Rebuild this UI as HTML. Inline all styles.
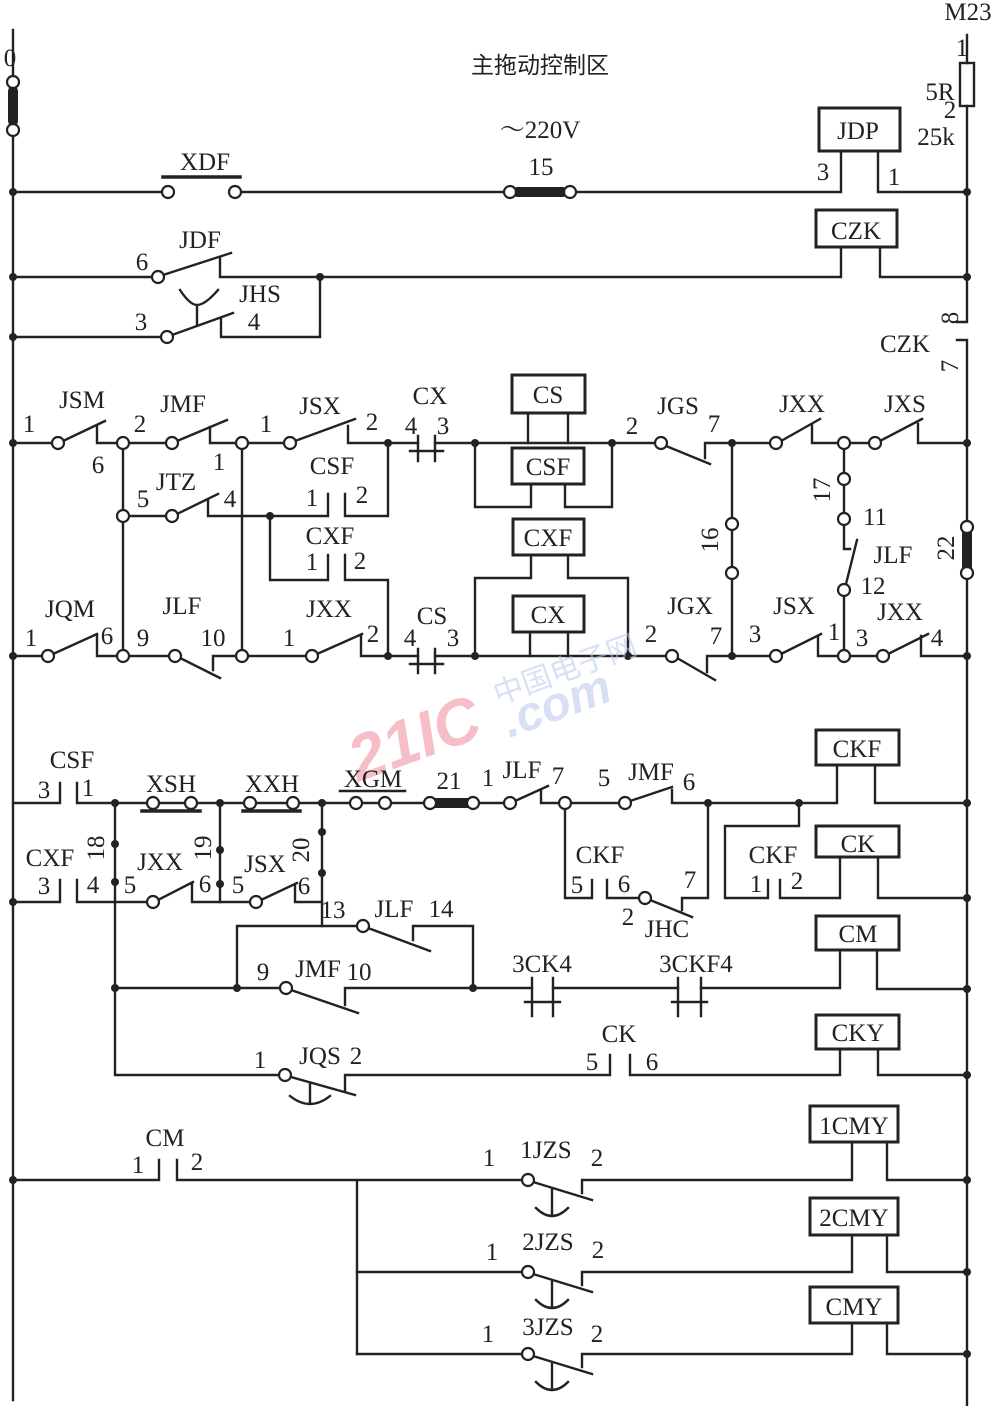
<!DOCTYPE html>
<html><head><meta charset="utf-8"><style>
html,body{margin:0;padding:0;background:#fff}
svg{display:block}
text{font-family:"Liberation Serif","Noto Serif CJK SC",serif;font-size:25px;fill:#222;text-anchor:middle}
.c{fill:#fff;stroke:#222;stroke-width:2.2}
.d{fill:#222}
</style></head><body>
<svg width="996" height="1406" viewBox="0 0 996 1406" xmlns="http://www.w3.org/2000/svg">
<g stroke="#222" stroke-width="2.4" fill="none" stroke-linecap="square">
<path d="M13 30V76M13 136V1400"/>
<path d="M967 35V63M967 106V322H957M967 340H957M967 340V520M967 580V1406"/>
<rect x="960" y="63" width="14" height="43"/>
<path d="M13 192H162M241 192H504M576 192H841V151M878 151V192H967"/>
<path d="M163 177H240" stroke-width="3.5"/>
<rect x="819" y="108" width="81" height="43" stroke-width="3"/>
<path d="M13 277H152M163 275L231 253M220 258V277H841V247M880 247V277H967"/>
<rect x="816" y="210" width="81" height="37" stroke-width="3"/>
<path d="M13 337H161M172 335L233 313M221 318V337H320V277"/>
<path d="M197 325V305M180 290Q190 305 197 305Q205 305 218 290"/>
<path d="M13 443H52M63 441L105 421M97 426V443H117M129 443H166M177 441L227 420M210 427V443H236M248 443H284M295 441L355 419M348 426V443H418M435 443H655"/>
<path d="M418 436V461M435 436V461M410 451H443"/>
<path d="M666 446L710 464M705 443V458M705 443H770M781 441L820 419M812 425V443H838M850 443H869M880 441L922 419M918 424V443H967"/>
<path d="M123 449V510M123 522V650M242 449V650M388 443V516H345V494M328 494V516H208V500M129 516H166M177 514L218 494"/>
<path d="M270 516V580H328V555M345 555V580H388V656"/>
<rect x="512" y="375" width="73" height="38" stroke-width="3"/>
<path d="M528 413V443M568 413V443M475 443V507H531V484M565 484V507H612V443"/>
<rect x="512" y="448" width="72" height="36" stroke-width="3"/>
<rect x="513" y="519" width="71" height="36" stroke-width="3"/>
<path d="M531 555V578H475V656M568 555V578H628V656"/>
<rect x="513" y="596" width="71" height="36" stroke-width="3"/>
<path d="M530 632V656M568 632V656"/>
<path d="M732 443V518M732 530V567M732 579V656"/>
<path d="M844 449V473M844 485V513M844 525V549H850M857 540L846 584M844 596V650"/>
<path d="M13 656H42M53 654L97 634M97 636V656H117M129 656H169M180 658L220 678M213 656V670M213 656H236M248 656H306M317 654L362 634M361 636V656H418M435 656H666"/>
<path d="M418 649V673M435 649V673M410 664H443"/>
<path d="M677 658L715 680M707 656V672M707 656H770M781 654L821 634M818 636V656H838M850 656H877M888 654L928 634M921 636V656H967"/>
<path d="M13 803H60V783M77 783V803H147M159 803H185M197 803H244M256 803H287M299 803H350M362 803H379M391 803H424M479 803H504M515 801L548 786M541 790V803H559M571 803H619M630 801L672 787M672 790V803H837V765M875 765V803H967"/>
<path d="M142 811H200M243 811H300" stroke-width="3.5"/>
<path d="M340 791H405" stroke-width="2.5"/>
<rect x="816" y="730" width="83" height="35" stroke-width="3"/>
<path d="M115 803V1075H280M220 803V902M322 803V926"/>
<path d="M13 902H60V880M77 880V902H147M158 900L193 882M192 884V902H250M261 900L297 883M295 884V902H322"/>
<path d="M237 988V926H357M368 928L430 951M413 940V926H473V988"/>
<path d="M115 988H280M291 990L358 1013M345 988V1005M345 988H532M553 988H678M701 988H840V950M877 950V989H967"/>
<path d="M532 978V1016M553 978V1016M525 1002H560M678 978V1016M701 978V1016M672 1002H707"/>
<rect x="816" y="916" width="83" height="34" stroke-width="3"/>
<path d="M565 809V898H592V880M607 880V898H639M650 900L692 917M682 898V910M682 898H708V803"/>
<path d="M799 803V826H725V898H768V880M780 880V898H840V857M878 857V898H967"/>
<rect x="816" y="826" width="83" height="31" stroke-width="3"/>
<path d="M291 1077L355 1095M345 1075V1090M345 1075H610V1055M630 1055V1075H840V1049M878 1049V1075H967"/>
<path d="M310 1083V1103M290 1096Q310 1112 330 1096"/>
<rect x="816" y="1015" width="83" height="34" stroke-width="3"/>
<path d="M13 1180H159V1160M177 1160V1180H522M357 1180V1354"/>
<path d="M533 1182L592 1200M582 1180V1193M582 1180H852V1142M887 1142V1180H967"/>
<path d="M552 1190V1215M536 1208Q552 1224 568 1208"/>
<rect x="810" y="1106" width="88" height="36" stroke-width="3"/>
<path d="M357 1272H522M533 1274L592 1292M582 1272V1285M582 1272H852V1235M887 1235V1272H967"/>
<path d="M552 1282V1307M536 1300Q552 1316 568 1300"/>
<rect x="810" y="1198" width="88" height="37" stroke-width="3"/>
<path d="M357 1354H522M533 1356L592 1374M582 1354V1367M582 1354H852V1323M887 1323V1354H967"/>
<path d="M552 1364V1389M536 1382Q552 1398 568 1382"/>
<rect x="810" y="1287" width="88" height="36" stroke-width="3"/>
</g>
<g>
<rect x="8" y="86" width="10" height="40" rx="5" class="d"/>
<rect x="512" y="187" width="56" height="10" rx="5" class="d"/>
<rect x="962" y="522" width="10" height="56" rx="5" class="d"/>
<rect x="426" y="798" width="50" height="10" rx="5" class="d"/>
</g>
<g class="c">
<circle cx="13" cy="82" r="6"/><circle cx="13" cy="130" r="6"/>
<circle cx="168" cy="192" r="6"/><circle cx="235" cy="192" r="6"/>
<circle cx="510" cy="192" r="6"/><circle cx="570" cy="192" r="6"/>
<circle cx="158" cy="277" r="6"/><circle cx="167" cy="337" r="6"/>
<circle cx="58" cy="443" r="6"/><circle cx="123" cy="443" r="6"/><circle cx="172" cy="443" r="6"/><circle cx="242" cy="443" r="6"/><circle cx="290" cy="443" r="6"/>
<circle cx="661" cy="443" r="6"/><circle cx="776" cy="443" r="6"/><circle cx="844" cy="443" r="6"/><circle cx="875" cy="443" r="6"/>
<circle cx="123" cy="516" r="6"/><circle cx="172" cy="516" r="6"/>
<circle cx="732" cy="524" r="6"/><circle cx="732" cy="573" r="6"/>
<circle cx="844" cy="479" r="6"/><circle cx="844" cy="519" r="6"/><circle cx="844" cy="590" r="6"/>
<circle cx="967" cy="527" r="6"/><circle cx="967" cy="573" r="6"/>
<circle cx="48" cy="656" r="6"/><circle cx="123" cy="656" r="6"/><circle cx="175" cy="656" r="6"/><circle cx="242" cy="656" r="6"/><circle cx="312" cy="656" r="6"/>
<circle cx="672" cy="656" r="6"/><circle cx="776" cy="656" r="6"/><circle cx="844" cy="656" r="6"/><circle cx="883" cy="656" r="6"/>
<circle cx="153" cy="803" r="6"/><circle cx="191" cy="803" r="6"/><circle cx="250" cy="803" r="6"/><circle cx="293" cy="803" r="6"/>
<circle cx="356" cy="803" r="6"/><circle cx="385" cy="803" r="6"/><circle cx="430" cy="803" r="6"/><circle cx="473" cy="803" r="6"/>
<circle cx="510" cy="803" r="6"/><circle cx="565" cy="803" r="6"/><circle cx="625" cy="803" r="6"/>
<circle cx="153" cy="902" r="6"/><circle cx="256" cy="902" r="6"/>
<circle cx="363" cy="926" r="6"/><circle cx="286" cy="988" r="6"/><circle cx="645" cy="898" r="6"/>
<circle cx="285" cy="1075" r="6"/>
<circle cx="528" cy="1180" r="6"/><circle cx="528" cy="1272" r="6"/><circle cx="528" cy="1354" r="6"/>
</g>
<g class="d">
<circle cx="13" cy="192" r="4"/><circle cx="13" cy="277" r="4"/><circle cx="13" cy="337" r="4"/><circle cx="320" cy="277" r="4"/>
<circle cx="967" cy="192" r="4"/><circle cx="967" cy="277" r="4"/>
<circle cx="13" cy="443" r="4"/><circle cx="388" cy="443" r="4"/><circle cx="475" cy="443" r="4"/><circle cx="612" cy="443" r="4"/><circle cx="732" cy="443" r="4"/><circle cx="967" cy="443" r="4"/>
<circle cx="270" cy="516" r="4"/>
<circle cx="13" cy="656" r="4"/><circle cx="388" cy="656" r="4"/><circle cx="475" cy="656" r="4"/><circle cx="628" cy="656" r="4"/><circle cx="732" cy="656" r="4"/><circle cx="967" cy="656" r="4"/>
<circle cx="115" cy="803" r="4"/><circle cx="220" cy="803" r="4"/><circle cx="322" cy="803" r="4"/><circle cx="708" cy="803" r="4"/><circle cx="799" cy="803" r="4"/><circle cx="967" cy="803" r="4"/>
<circle cx="115" cy="844" r="4"/><circle cx="115" cy="882" r="4"/><circle cx="220" cy="850" r="4"/><circle cx="220" cy="884" r="4"/><circle cx="322" cy="832" r="4"/><circle cx="322" cy="873" r="4"/>
<circle cx="13" cy="902" r="4"/><circle cx="967" cy="898" r="4"/>
<circle cx="115" cy="988" r="4"/><circle cx="237" cy="988" r="4"/><circle cx="473" cy="988" r="4"/><circle cx="967" cy="989" r="4"/>
<circle cx="967" cy="1075" r="4"/>
<circle cx="13" cy="1180" r="4"/><circle cx="967" cy="1180" r="4"/><circle cx="967" cy="1272" r="4"/><circle cx="967" cy="1354" r="4"/>
</g>
<g opacity="0.55">
<text x="415" y="760" style="font-family:'Liberation Sans',sans-serif;font-size:64px;font-weight:bold;font-style:italic;fill:#f08a9a" transform="rotate(-20 415 740)">21IC</text>
<text x="555" y="720" style="font-family:'Liberation Sans',sans-serif;font-size:48px;font-weight:bold;font-style:italic;fill:#b8c8ee" transform="rotate(-20 555 700)">.com</text>
<text x="565" y="680" style="font-family:'Noto Sans CJK SC',sans-serif;font-size:30px;fill:#b8c8ee" transform="rotate(-20 565 670)">中国电子网</text>
</g>
<g>
<text x="10" y="66">0</text>
<text x="968" y="20">M23</text>
<text x="962" y="56">1</text>
<text x="940" y="100">5R</text>
<text x="950" y="118">2</text>
<text x="936" y="145">25k</text>
<text x="540" y="73" style="font-family:'Noto Sans CJK SC',sans-serif;font-size:23px">主拖动控制区</text>
<text x="540" y="138">～220V</text>
<text x="205" y="170">XDF</text>
<text x="541" y="175">15</text>
<text x="858" y="139">JDP</text>
<text x="823" y="180">3</text>
<text x="894" y="185">1</text>
<text x="856" y="239">CZK</text>
<text x="200" y="248">JDF</text>
<text x="142" y="270">6</text>
<text x="260" y="302">JHS</text>
<text x="141" y="330">3</text>
<text x="254" y="330">4</text>
<text x="950" y="318" transform="rotate(-90 950 318)" dy="8">8</text>
<text x="905" y="352">CZK</text>
<text x="950" y="366" transform="rotate(-90 950 366)" dy="8">7</text>
<text x="946" y="548" transform="rotate(-90 946 548)" dy="8">22</text>
<text x="29" y="432">1</text>
<text x="82" y="408">JSM</text>
<text x="98" y="473">6</text>
<text x="140" y="432">2</text>
<text x="183" y="412">JMF</text>
<text x="219" y="470">1</text>
<text x="266" y="432">1</text>
<text x="320" y="414">JSX</text>
<text x="372" y="430">2</text>
<text x="430" y="404">CX</text>
<text x="411" y="434">4</text>
<text x="443" y="434">3</text>
<text x="548" y="403">CS</text>
<text x="548" y="475">CSF</text>
<text x="548" y="546">CXF</text>
<text x="548" y="623">CX</text>
<text x="632" y="434">2</text>
<text x="678" y="414">JGS</text>
<text x="714" y="432">7</text>
<text x="802" y="412">JXX</text>
<text x="905" y="412">JXS</text>
<text x="143" y="507">5</text>
<text x="176" y="490">JTZ</text>
<text x="230" y="507">4</text>
<text x="332" y="474">CSF</text>
<text x="312" y="506">1</text>
<text x="362" y="503">2</text>
<text x="330" y="544">CXF</text>
<text x="312" y="570">1</text>
<text x="360" y="569">2</text>
<text x="710" y="540" transform="rotate(-90 710 540)" dy="8">16</text>
<text x="822" y="490" transform="rotate(-90 822 490)" dy="8">17</text>
<text x="875" y="525">11</text>
<text x="893" y="563">JLF</text>
<text x="873" y="594">12</text>
<text x="70" y="617">JQM</text>
<text x="31" y="646">1</text>
<text x="107" y="644">6</text>
<text x="143" y="646">9</text>
<text x="182" y="614">JLF</text>
<text x="213" y="646">10</text>
<text x="289" y="646">1</text>
<text x="329" y="617">JXX</text>
<text x="373" y="642">2</text>
<text x="432" y="624">CS</text>
<text x="410" y="646">4</text>
<text x="453" y="646">3</text>
<text x="651" y="642">2</text>
<text x="690" y="614">JGX</text>
<text x="716" y="644">7</text>
<text x="755" y="642">3</text>
<text x="794" y="614">JSX</text>
<text x="834" y="640">1</text>
<text x="862" y="646">3</text>
<text x="900" y="620">JXX</text>
<text x="937" y="646">4</text>
<text x="72" y="768">CSF</text>
<text x="44" y="798">3</text>
<text x="88" y="796">1</text>
<text x="171" y="792">XSH</text>
<text x="272" y="792">XXH</text>
<text x="373" y="787">XGM</text>
<text x="449" y="789">21</text>
<text x="488" y="786">1</text>
<text x="522" y="778">JLF</text>
<text x="558" y="784">7</text>
<text x="604" y="786">5</text>
<text x="651" y="780">JMF</text>
<text x="689" y="790">6</text>
<text x="857" y="757">CKF</text>
<text x="50" y="866">CXF</text>
<text x="96" y="848" transform="rotate(-90 96 848)" dy="8">18</text>
<text x="44" y="894">3</text>
<text x="93" y="893">4</text>
<text x="130" y="893">5</text>
<text x="160" y="870">JXX</text>
<text x="205" y="892">6</text>
<text x="203" y="848" transform="rotate(-90 203 848)" dy="8">19</text>
<text x="238" y="893">5</text>
<text x="265" y="872">JSX</text>
<text x="304" y="894">6</text>
<text x="301" y="850" transform="rotate(-90 301 850)" dy="8">20</text>
<text x="333" y="918">13</text>
<text x="394" y="917">JLF</text>
<text x="441" y="917">14</text>
<text x="263" y="980">9</text>
<text x="318" y="977">JMF</text>
<text x="359" y="980">10</text>
<text x="542" y="972">3CK4</text>
<text x="696" y="972">3CKF4</text>
<text x="600" y="863">CKF</text>
<text x="577" y="893">5</text>
<text x="624" y="892">6</text>
<text x="690" y="888">7</text>
<text x="628" y="925">2</text>
<text x="667" y="937">JHC</text>
<text x="773" y="863">CKF</text>
<text x="756" y="892">1</text>
<text x="797" y="889">2</text>
<text x="858" y="852">CK</text>
<text x="858" y="942">CM</text>
<text x="858" y="1041">CKY</text>
<text x="260" y="1068">1</text>
<text x="320" y="1064">JQS</text>
<text x="356" y="1064">2</text>
<text x="619" y="1042">CK</text>
<text x="592" y="1070">5</text>
<text x="652" y="1070">6</text>
<text x="165" y="1146">CM</text>
<text x="138" y="1173">1</text>
<text x="197" y="1170">2</text>
<text x="489" y="1166">1</text>
<text x="546" y="1158">1JZS</text>
<text x="597" y="1166">2</text>
<text x="854" y="1134">1CMY</text>
<text x="492" y="1260">1</text>
<text x="548" y="1250">2JZS</text>
<text x="598" y="1258">2</text>
<text x="854" y="1226">2CMY</text>
<text x="488" y="1342">1</text>
<text x="548" y="1335">3JZS</text>
<text x="597" y="1342">2</text>
<text x="854" y="1315">CMY</text>
</g>
</svg>
</body></html>
